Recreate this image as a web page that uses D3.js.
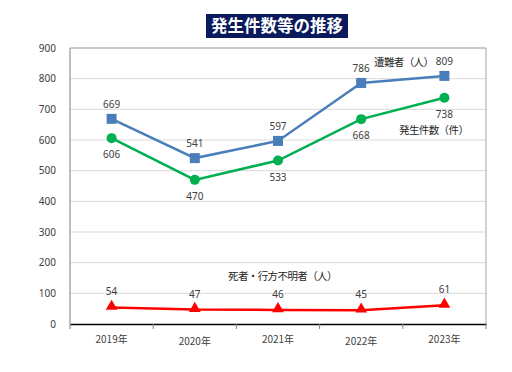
<!DOCTYPE html>
<html>
<head>
<meta charset="utf-8">
<script src="https://cdn.jsdelivr.net/npm/d3@7"></script>
<style>
  body { margin: 0; background: #fff; }
  text { font-family: "Noto Sans CJK JP", "Noto Sans", sans-serif; }
</style>
</head>
<body>
<svg id="chart" width="512" height="372"></svg>
<script>
// data
var years = ["2019年", "2020年", "2021年", "2022年", "2023年"];
var sounan = [669, 541, 597, 786, 809];      // 遭難者（人）
var hassei = [606, 470, 533, 668, 738];      // 発生件数（件）
var shisha = [54, 47, 46, 45, 61];           // 死者・行方不明者（人）
var yTicks = [0, 100, 200, 300, 400, 500, 600, 700, 800, 900];

var svg = d3.select("#chart");
var margin = { top: 48, left: 70, right: 26, bottom: 48 };
var width = 512 - margin.left - margin.right,
  height = 372 - margin.top - margin.bottom;

// title
svg.append("rect")
  .attr("x", 206).attr("y", 14)
  .attr("width", 142).attr("height", 24)
  .attr("fill", "#0a1a5c");
svg.append("text")
  .attr("x", 277).attr("y", 32)
  .attr("text-anchor", "middle")
  .attr("fill", "#fff")
  .attr("font-size", 16.5)
  .attr("font-weight", "bold")
  .text("発生件数等の推移");

var g = svg.append("g")
  .attr("transform", "translate(" + margin.left + "," + margin.top + ")");

var x = d3.scaleBand().domain(years).range([0, width]);
var y = d3.scaleLinear().domain([0, 900]).range([height, 0]);
var cx = function (d, i) { return x(years[i]) + x.bandwidth() / 2; };

// grid
g.selectAll(".grid")
  .data(yTicks.slice(1))
  .enter()
  .append("line")
  .attr("x1", 0).attr("x2", width)
  .attr("y1", function (d) { return y(d); })
  .attr("y2", function (d) { return y(d); })
  .attr("stroke", "#d9d9d9")
  .attr("stroke-width", 1);

// frame
g.append("line").attr("x1", 0).attr("x2", 0).attr("y1", 0).attr("y2", height)
  .attr("stroke", "#7f7f7f");
g.append("line").attr("x1", width).attr("x2", width).attr("y1", 0).attr("y2", height)
  .attr("stroke", "#a6a6a6");
g.append("line").attr("x1", 0).attr("x2", width).attr("y1", 0).attr("y2", 0)
  .attr("stroke", "#a6a6a6");

// y axis labels
var yAxis = d3.axisLeft(y).tickValues(yTicks).tickSize(0).tickPadding(14);
var gY = g.append("g").call(yAxis);
gY.select(".domain").remove();
gY.selectAll("text")
  .attr("font-size", 10)
  .attr("fill", "#404040")
  .style("font-family", "'Noto Sans', sans-serif");

// x axis
var xAxis = d3.axisBottom(x).tickSize(0).tickPadding(11);
var gX = g.append("g")
  .attr("transform", "translate(0," + height + ")")
  .call(xAxis);
gX.select(".domain").attr("stroke", "#000").attr("stroke-width", 1.3);
gX.selectAll("text")
  .attr("font-size", 10)
  .attr("fill", "#404040")
  .attr("dy", function (d, i) { return i % 2 === 1 ? "0.95em" : "0.8em"; });

// x tick marks at band boundaries
g.selectAll(".xt")
  .data(d3.range(years.length + 1))
  .enter()
  .append("line")
  .attr("x1", function (i) { return i * x.step(); })
  .attr("x2", function (i) { return i * x.step(); })
  .attr("y1", height)
  .attr("y2", height + 5)
  .attr("stroke", "#7f7f7f");

var line = d3.line()
  .x(function (d, i) { return cx(d, i); })
  .y(function (d) { return y(d); });

// 遭難者
g.append("path").datum(sounan).attr("d", line)
  .attr("fill", "none").attr("stroke", "#4a7ebb").attr("stroke-width", 2.5);
g.selectAll(".sq").data(sounan).enter().append("rect")
  .attr("x", function (d, i) { return cx(d, i) - 5; })
  .attr("y", function (d) { return y(d) - 5; })
  .attr("width", 10).attr("height", 10)
  .attr("fill", "#4a7ebb");

// 発生件数
g.append("path").datum(hassei).attr("d", line)
  .attr("fill", "none").attr("stroke", "#00b050").attr("stroke-width", 2.5);
g.selectAll(".ci").data(hassei).enter().append("circle")
  .attr("cx", function (d, i) { return cx(d, i); })
  .attr("cy", function (d) { return y(d); })
  .attr("r", 5)
  .attr("fill", "#00b050");

// 死者・行方不明者
g.append("path").datum(shisha).attr("d", line)
  .attr("fill", "none").attr("stroke", "#ff0000").attr("stroke-width", 2.5);
g.selectAll(".tr").data(shisha).enter().append("path")
  .attr("d", d3.symbol().type(d3.symbolTriangle).size(60))
  .attr("transform", function (d, i) { return "translate(" + cx(d, i) + "," + (y(d) - 1) + ")"; })
  .attr("fill", "#ff0000");

// data labels
function labels(data, dy) {
  g.selectAll(null).data(data).enter().append("text")
    .attr("x", function (d, i) { return cx(d, i); })
    .attr("y", function (d) { return y(d) + dy; })
    .attr("text-anchor", "middle")
    .attr("font-size", 10)
    .attr("fill", "#404040")
    .style("font-family", "'Noto Sans', sans-serif")
    .text(function (d) { return d; });
}
labels(sounan, -11);
labels(hassei, 20);
labels(shisha, -12);

// series names
function seriesName(t, xx, yy) {
  svg.append("text")
    .attr("x", xx).attr("y", yy)
    .attr("font-size", 10.5)
    .attr("letter-spacing", -0.6)
    .attr("fill", "#262626")
    .text(t);
}
seriesName("遭難者（人）", 374, 66);
seriesName("発生件数（件）", 399, 134);
seriesName("死者・行方不明者（人）", 228, 280);
</script>
</body>
</html>
